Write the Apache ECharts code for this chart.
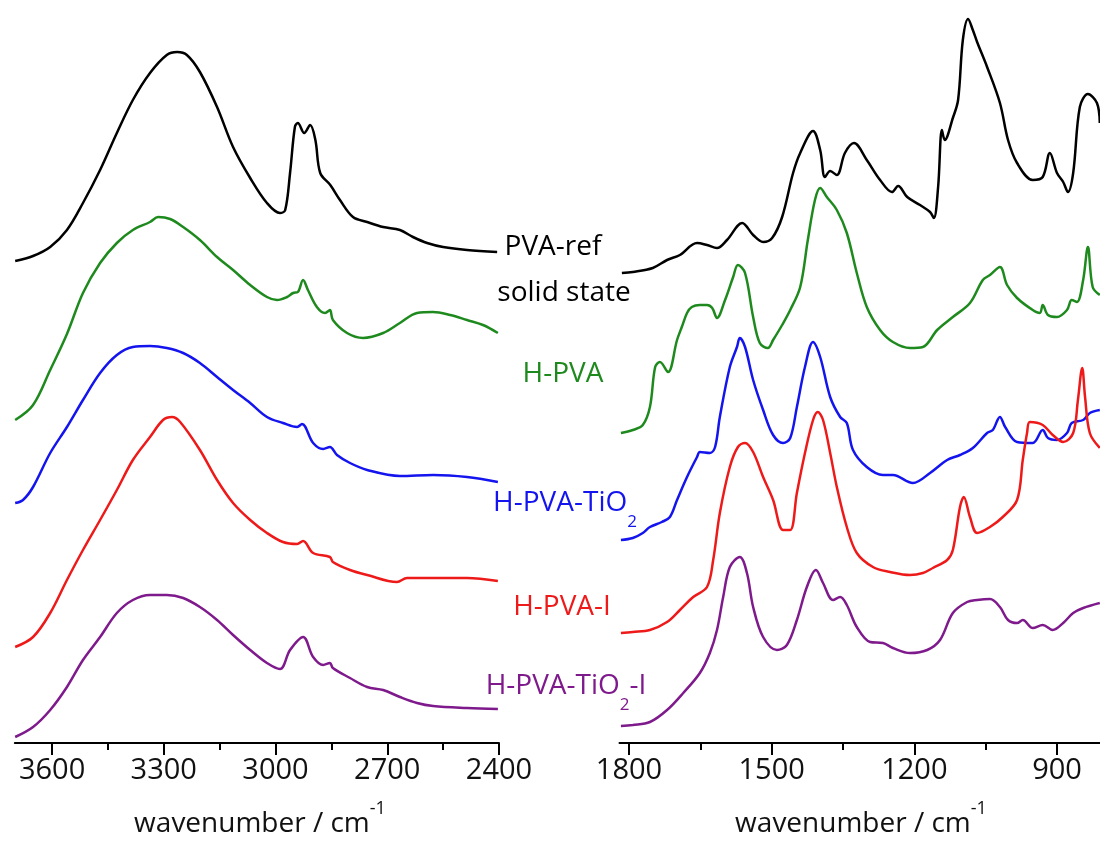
<!DOCTYPE html>
<html>
<head>
<meta charset="utf-8">
<script src="https://cdn.jsdelivr.net/npm/echarts@6/dist/echarts.min.js"></script>
<style>
  html, body { margin: 0; padding: 0; background: #fff; }
  #main { width: 1100px; height: 841px; }
</style>
</head>
<body>
<div id="main"></div>
<script>
// spectra: [wavenumber, intensity a.u. incl. stacking offset]
const pvaRefHigh = [[3699,48.2],[3651,48.7],[3605,49.6],[3560,51.3],[3517,54.0],[3471,57.3],[3426,61.0],[3383,64.3],[3337,67.0],[3292,68.8],[3264,69.1],[3238,68.8],[3203,67.1],[3157,63.6],[3114,59.6],[3068,56.5],[3023,54.0],[2988,53.0],[2974,53.3],[2961,57.0],[2948,61.6],[2940,62.0],[2923,61.0],[2907,61.8],[2893,60.3],[2880,57.0],[2853,55.8],[2827,54.3],[2792,52.6],[2754,52.1],[2711,51.6],[2666,51.3],[2631,50.6],[2593,50.0],[2550,49.6],[2486,49.3],[2405,49.1]];
const hpvaHigh = [[3699,32.3],[3651,33.8],[3605,37.3],[3560,40.9],[3517,45.0],[3471,48.0],[3426,50.0],[3383,51.3],[3337,52.1],[3315,52.6],[3283,52.4],[3248,51.6],[3203,50.3],[3157,48.6],[3114,47.3],[3068,45.8],[3023,44.6],[2996,44.3],[2969,44.6],[2953,45.0],[2940,45.1],[2926,46.3],[2913,45.3],[2889,43.6],[2867,43.0],[2854,43.3],[2846,42.3],[2808,41.0],[2765,40.5],[2711,41.0],[2666,42.0],[2620,43.0],[2577,43.1],[2531,42.8],[2486,42.3],[2443,41.8],[2403,41.0]];
const hpvaTiHigh = [[3699,24.0],[3678,24.3],[3651,25.6],[3605,29.0],[3560,31.6],[3517,34.3],[3471,37.0],[3426,38.8],[3383,39.6],[3337,39.7],[3292,39.5],[3248,39.0],[3203,38.0],[3157,36.6],[3114,35.3],[3068,34.0],[3023,32.6],[2980,32.0],[2942,31.6],[2929,31.9],[2899,30.0],[2872,29.4],[2854,29.6],[2835,28.8],[2800,28.0],[2754,27.3],[2666,26.7],[2577,26.8],[2486,26.6],[2403,26.1]];
const hpvaIHigh = [[3699,9.6],[3651,10.6],[3605,13.0],[3560,16.3],[3517,19.3],[3471,22.3],[3426,25.3],[3383,28.3],[3337,30.6],[3302,32.3],[3278,32.6],[3256,32.1],[3203,29.3],[3157,26.3],[3114,24.0],[3068,22.3],[3023,21.0],[2980,20.1],[2942,19.9],[2926,20.2],[2899,19.0],[2854,18.6],[2846,18.1],[2800,17.3],[2754,16.8],[2674,16.1],[2647,16.5],[2577,16.5],[2486,16.5],[2403,16.2]];
const hpvaTiIHigh = [[3699,0.6],[3651,1.6],[3605,3.3],[3560,5.6],[3517,8.3],[3471,10.6],[3426,13.0],[3383,14.3],[3337,14.8],[3292,14.8],[3248,14.5],[3203,13.6],[3157,12.3],[3114,10.8],[3068,9.3],[3023,8.0],[2988,7.4],[2961,9.3],[2926,10.6],[2899,8.6],[2872,7.8],[2854,8.0],[2846,7.5],[2800,6.5],[2754,5.6],[2711,5.3],[2666,4.6],[2620,4.0],[2577,3.7],[2486,3.5],[2403,3.4]];

const pvaRefLow = [[1815,47.0],[1792,47.1],[1750,47.5],[1720,48.3],[1693,48.8],[1657,50.0],[1636,49.8],[1615,49.5],[1594,50.3],[1562,52.0],[1539,50.8],[1518,50.1],[1499,50.5],[1478,52.6],[1455,57.0],[1440,59.0],[1413,61.2],[1398,59.3],[1388,56.6],[1377,57.2],[1363,56.8],[1346,59.0],[1327,60.0],[1300,58.3],[1272,56.3],[1247,55.1],[1234,55.7],[1215,54.6],[1188,53.8],[1167,53.1],[1159,52.5],[1150,55.6],[1142,61.3],[1136,60.3],[1119,62.5],[1108,64.3],[1098,70.3],[1087,72.4],[1077,71.3],[1068,70.1],[1047,67.6],[1020,64.0],[1003,60.3],[984,58.0],[951,56.3],[930,56.6],[915,59.0],[900,57.0],[887,56.1],[877,55.1],[866,57.0],[852,63.6],[835,64.9],[816,64.0],[810,62.0]];
const hpvaLow = [[1817,31.0],[1792,31.3],[1771,31.8],[1756,33.6],[1745,37.6],[1735,38.1],[1718,37.1],[1699,40.3],[1689,41.6],[1678,43.0],[1668,43.6],[1651,43.8],[1636,43.8],[1625,43.5],[1615,42.5],[1598,44.3],[1581,46.6],[1571,47.8],[1556,47.0],[1539,42.6],[1525,40.0],[1508,39.5],[1497,40.3],[1478,41.8],[1461,43.3],[1440,45.6],[1424,50.3],[1409,54.3],[1398,55.5],[1384,54.6],[1363,53.3],[1342,51.0],[1321,47.0],[1300,43.6],[1272,41.3],[1245,40.1],[1209,39.5],[1182,39.6],[1152,41.3],[1119,42.6],[1083,44.0],[1056,46.3],[1041,46.8],[1020,47.6],[1005,45.8],[984,44.5],[951,43.3],[936,43.0],[930,43.8],[919,42.8],[900,42.6],[879,43.3],[869,44.3],[858,44.1],[845,46.3],[835,49.6],[825,45.6],[810,44.8]];
const hpvaTiLow = [[1817,20.3],[1792,20.5],[1771,21.0],[1756,21.6],[1731,22.1],[1714,22.6],[1699,24.3],[1678,26.6],[1657,28.6],[1651,29.1],[1630,29.0],[1619,29.6],[1609,32.6],[1588,37.6],[1573,39.6],[1567,40.5],[1556,39.6],[1539,36.3],[1518,33.3],[1497,30.8],[1476,30.0],[1461,30.5],[1447,33.6],[1430,37.6],[1413,40.1],[1398,38.6],[1377,34.6],[1356,32.6],[1342,32.0],[1329,29.3],[1300,27.6],[1266,26.8],[1245,26.8],[1203,26.0],[1167,27.0],[1131,28.3],[1104,28.8],[1077,29.5],[1047,31.0],[1035,31.3],[1020,32.6],[1009,31.6],[984,30.1],[951,30.0],[930,31.3],[919,30.5],[900,30.3],[879,31.0],[869,32.0],[845,32.3],[831,33.0],[810,33.3]];
const hpvaILow = [[1817,11.0],[1792,11.1],[1756,11.3],[1720,12.1],[1693,13.3],[1665,14.6],[1636,15.6],[1623,18.3],[1609,23.0],[1588,27.6],[1571,29.6],[1556,30.0],[1539,29.1],[1518,26.6],[1497,24.3],[1476,21.3],[1461,21.3],[1447,25.0],[1430,29.0],[1413,32.3],[1403,33.1],[1392,32.3],[1377,29.0],[1363,25.6],[1342,21.6],[1321,19.0],[1287,17.6],[1251,17.1],[1209,16.8],[1182,17.0],[1161,17.5],[1131,18.3],[1119,19.3],[1104,23.6],[1096,24.6],[1083,22.6],[1068,21.0],[1041,21.6],[1014,22.6],[984,24.3],[972,28.3],[963,31.0],[957,32.1],[930,31.8],[909,30.8],[887,30.1],[866,31.0],[856,34.3],[847,37.5],[841,34.6],[831,31.0],[810,29.5]];
const hpvaTiILow = [[1817,1.7],[1792,1.8],[1756,2.1],[1720,3.3],[1686,5.0],[1651,7.0],[1630,9.0],[1615,11.3],[1602,14.6],[1588,17.6],[1567,18.6],[1552,17.0],[1539,13.6],[1518,10.6],[1489,9.3],[1468,9.8],[1447,12.3],[1426,15.6],[1407,17.3],[1392,16.0],[1371,14.3],[1356,14.6],[1342,13.8],[1321,11.6],[1293,10.1],[1266,10.0],[1245,9.5],[1209,9.0],[1173,9.3],[1146,10.3],[1119,13.0],[1089,14.1],[1068,14.3],[1041,14.4],[1020,13.6],[1003,12.3],[984,12.0],[972,12.3],[951,11.5],[930,11.8],[909,11.3],[887,12.0],[866,13.0],[845,13.5],[810,14.0]];

const highLabels = [2400, 2700, 3000, 3300, 3600];
const highMinor = [2550, 2850, 3150, 3450];
const lowLabels = [900, 1200, 1500, 1800];
const lowMinor = [1050, 1350, 1650];

const seriesNames = ['PVA-ref', 'H-PVA', 'H-PVA-TiO2', 'H-PVA-I', 'H-PVA-TiO2-I'];
const seriesColors = ['#000000', '#1e8a1e', '#1414ee', '#ee1a1a', '#7e1a8c'];

const FONT = 'Open Sans';

function bottomAxis(gridIndex, min, max, labels, minor, major) {
  return {
    type: 'value',
    gridIndex: gridIndex,
    min: min,
    max: max,
    inverse: true,
    axisLine: { show: major, lineStyle: { color: '#000', width: 2 } },
    axisTick: {
      show: true,
      length: major ? 12 : 7,
      customValues: major ? labels : minor,
      lineStyle: { color: '#000', width: 2 }
    },
    axisLabel: {
      show: major,
      customValues: labels,
      fontSize: 29,
      fontFamily: FONT,
      color: '#111',
      margin: 13,
      formatter: (v) => String(v)
    },
    splitLine: { show: false }
  };
}

function hiddenY(gridIndex) {
  return { type: 'value', gridIndex: gridIndex, min: 0, max: 74, show: false, splitLine: { show: false } };
}

function line(name, data, axisIndex, color) {
  return {
    name: name,
    type: 'line',
    xAxisIndex: axisIndex,
    yAxisIndex: axisIndex,
    data: data,
    showSymbol: false,
    smooth: 0.35,
    silent: true,
    lineStyle: { color: color, width: 2.5 }
  };
}

function label(text, x, y, color) {
  return {
    type: 'text',
    x: x,
    y: y,
    silent: true,
    style: {
      text: text,
      align: 'center',
      verticalAlign: 'middle',
      fill: color,
      fontSize: 28,
      fontFamily: FONT,
      rich: {
        a: { fontSize: 28, fontFamily: FONT, fill: color },
        s: { fontSize: 17, fontFamily: FONT, fill: color, padding: [38, 0, 0, 0] },
        p: { fontSize: 18, fontFamily: FONT, fill: color, padding: [0, 0, 30, 0] }
      }
    }
  };
}

const highSets = [pvaRefHigh, hpvaHigh, hpvaTiHigh, hpvaIHigh, hpvaTiIHigh];
const lowSets = [pvaRefLow, hpvaLow, hpvaTiLow, hpvaILow, hpvaTiILow];

const chart = echarts.init(document.getElementById('main'));

const option = {
  animation: false,
  backgroundColor: '#fff',
  grid: [
    { left: 14.8, top: 3, width: 484.2, height: 740 },
    { left: 619.5, top: 3, width: 480.3, height: 740 },
    { left: 14.8, top: 3, width: 484.2, height: 740 },
    { left: 619.5, top: 3, width: 480.3, height: 740 }
  ],
  xAxis: [
    bottomAxis(0, 2400, 3700, highLabels, highMinor, true),
    bottomAxis(1, 810, 1820, lowLabels, lowMinor, true),
    bottomAxis(2, 2400, 3700, highLabels, highMinor, false),
    bottomAxis(3, 810, 1820, lowLabels, lowMinor, false)
  ],
  yAxis: [hiddenY(0), hiddenY(1), hiddenY(2), hiddenY(3)],
  series: [
    ...highSets.map((d, i) => line(seriesNames[i], d, 0, seriesColors[i])),
    ...lowSets.map((d, i) => line(seriesNames[i], d, 1, seriesColors[i]))
  ],
  graphic: [
    label('{a|PVA-ref}', 553, 247, seriesColors[0]),
    label('{a|solid state}', 564, 293, seriesColors[0]),
    label('{a|H-PVA}', 563, 374, seriesColors[1]),
    label('{a|H-PVA-TiO}{s|2}', 565, 503, seriesColors[2]),
    label('{a|H-PVA-I}', 562, 607, seriesColors[3]),
    label('{a|H-PVA-TiO}{s|2}{a|-I}', 566, 686, seriesColors[4]),
    label('{a|wavenumber / cm}{p|-1}', 260, 824, '#111'),
    label('{a|wavenumber / cm}{p|-1}', 861, 824, '#111')
  ]
};

chart.setOption(option);
</script>
</body>
</html>
